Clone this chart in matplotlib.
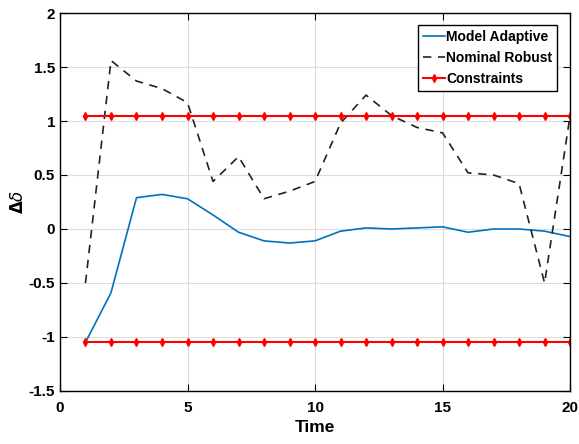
import matplotlib.pyplot as plt
import numpy as np

plt.rcParams['font.family'] = ['Liberation Sans', 'DejaVu Sans']

# Time steps
time = list(range(1, 21))

# Model adaptive response
model_adaptive = [-1.05, -0.59, 0.29, 0.32, 0.28, 0.13, -0.03, -0.11, -0.13, -0.11,
                  -0.02, 0.01, 0.0, 0.01, 0.02, -0.03, 0.0, 0.0, -0.02, -0.07]

# Nominal robust response
nominal_robust = [-0.5, 1.56, 1.37, 1.30, 1.17, 0.44, 0.67, 0.28, 0.35, 0.44,
                  0.98, 1.24, 1.05, 0.94, 0.89, 0.52, 0.50, 0.42, -0.5, 1.05]

# Constraint bounds
upper_bound = 1.05
lower_bound = -1.05

fig = plt.figure(figsize=(5.79, 4.44), dpi=100)
ax = fig.add_axes([0.1036, 0.1194, 0.881, 0.8513])

ax.plot(time, model_adaptive, color='#0072BD', lw=1.2, label='Model Adaptive')
ax.plot(time, nominal_robust, color='#222222', lw=1.2, ls=(0, (5, 4)), label='Nominal Robust')
ax.plot(time, [upper_bound] * len(time), color='red', lw=1.5, marker='d', ms=4, label='Constraints')
ax.plot(time, [lower_bound] * len(time), color='red', lw=1.5, marker='d', ms=4)

ax.set_xlim(0, 20)
ax.set_ylim(-1.5, 2)
ax.set_xticks([0, 5, 10, 15, 20])
ax.set_yticks(np.arange(-1.5, 2.01, 0.5))
ax.set_yticklabels(['-1.5', '-1', '-0.5', '0', '0.5', '1', '1.5', '2'])
ax.grid(True, color='#dddddd', lw=0.8)
ax.tick_params(direction='in', top=True, right=True, labelsize=11, length=5)
ax.tick_params(axis='x', pad=7)
for lbl in ax.get_xticklabels() + ax.get_yticklabels():
    lbl.set_fontweight('bold')
for s in ax.spines.values():
    s.set_linewidth(1.0)

ax.set_xlabel('Time', fontsize=12.5, fontweight='bold', labelpad=4)
ax.set_ylabel(r'$\mathbf{\Delta}\delta$', fontsize=12, labelpad=2)

leg = ax.legend(loc='upper right', bbox_to_anchor=(0.98, 0.975),
                prop={'weight': 'bold', 'size': 10}, fancybox=False, framealpha=1,
                edgecolor='black', handlelength=1.6, handletextpad=0.1,
                borderpad=0.35, labelspacing=0.5, borderaxespad=0.2)
leg.get_frame().set_linewidth(1.0)

fig.savefig('out.png', dpi=100)
